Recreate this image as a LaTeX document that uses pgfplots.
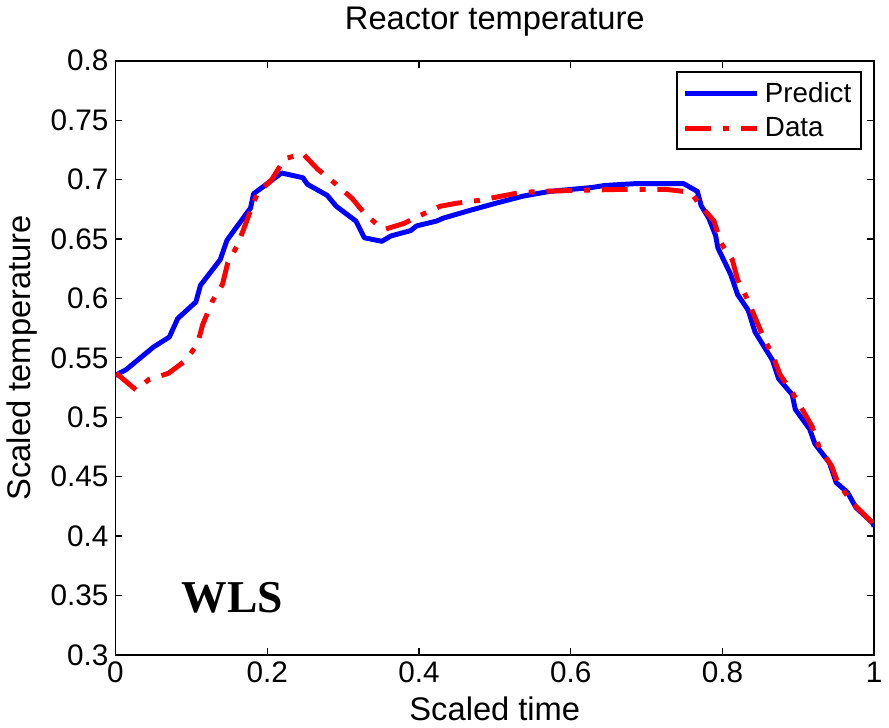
\documentclass[border=0pt]{standalone}
\usepackage{pgfplots}
\pgfplotsset{compat=1.18}
\usepackage{fontspec}
\setmainfont{Liberation Sans}
\newfontfamily\wlsfont{Liberation Serif}
\begin{document}
\begin{tikzpicture}
\begin{axis}[
    scale only axis,
    width=383pt, height=300pt,
    xmin=0, xmax=1, ymin=0.3, ymax=0.8,
    xtick={0,0.2,0.4,0.6,0.8,1},
    ytick={0.3,0.35,0.4,0.45,0.5,0.55,0.6,0.65,0.7,0.75,0.8},
    yticklabel style={/pgf/number format/fixed, /pgf/number format/precision=2},
    /pgf/number format/assume math mode=true,
    tick label style={font=\fontsize{15}{18}\selectfont},
    label style={font=\fontsize{16.5}{20}\selectfont},
    title style={font=\fontsize{16.5}{20}\selectfont, yshift=3pt},
    title={Reactor temperature},
    xlabel={Scaled time},
    ylabel={Scaled temperature},
    tick align=inside,
    major tick length=3.5pt,
    axis line style={line width=1pt},
    every tick/.style={black, line width=0.6pt},
    legend style={at={(0.984,0.982)}, anchor=north east, draw=black, line width=0.8pt,
        font=\fontsize{14}{17}\selectfont, row sep=2pt, inner sep=3pt,
        /tikz/every odd column/.append style={column sep=1pt}},
    legend cell align=left,
    legend image code/.code={\draw[#1] (0pt,0pt) -- (36pt,0pt);},
]
\addplot[blue, line width=2.5pt, line join=round] coordinates {
(0.000,0.535) (0.005,0.537) (0.014,0.540) (0.031,0.549) (0.050,0.559) (0.071,0.5675)
(0.082,0.583) (0.106,0.597) (0.112,0.611) (0.138,0.6325) (0.147,0.649) (0.178,0.676)
(0.182,0.688) (0.219,0.7055) (0.247,0.7015) (0.253,0.6960) (0.279,0.6867) (0.291,0.6775)
(0.317,0.665) (0.328,0.651) (0.351,0.648) (0.363,0.6525) (0.389,0.657) (0.397,0.661)
(0.423,0.665) (0.432,0.6675) (0.467,0.674) (0.501,0.680) (0.537,0.686) (0.572,0.690)
(0.628,0.6933) (0.645,0.695) (0.684,0.6965) (0.749,0.6965) (0.767,0.690) (0.772,0.678)
(0.782,0.6675) (0.791,0.653) (0.794,0.6425) (0.811,0.620) (0.820,0.6033) (0.834,0.590)
(0.843,0.5717) (0.866,0.548) (0.874,0.5325) (0.892,0.519) (0.896,0.5067) (0.915,0.490)
(0.922,0.4775) (0.941,0.4617) (0.950,0.445) (0.965,0.4367) (0.976,0.424) (0.998,0.411)
(1.000,0.408)
};
\addlegendentry{Predict}
\addplot[red, line width=2.5pt, dash pattern=on 13pt off 6pt on 3pt off 6pt] coordinates {
(0.001,0.537) (0.014,0.530) (0.027,0.523) (0.044,0.5317) (0.070,0.537) (0.093,0.548)
(0.108,0.5617) (0.115,0.578) (0.128,0.598) (0.141,0.6117) (0.148,0.630) (0.161,0.645)
(0.171,0.6617) (0.180,0.6775) (0.187,0.688) (0.206,0.700) (0.223,0.7175) (0.247,0.7217)
(0.266,0.709) (0.289,0.697) (0.312,0.684) (0.328,0.6717) (0.347,0.661) (0.356,0.6583)
(0.380,0.663) (0.399,0.669) (0.428,0.6775) (0.449,0.680) (0.480,0.6825) (0.533,0.689)
(0.560,0.690) (0.615,0.691) (0.667,0.6917) (0.726,0.6917) (0.749,0.690) (0.762,0.6858)
(0.772,0.6775) (0.789,0.665) (0.798,0.6467) (0.813,0.6325) (0.820,0.6158) (0.833,0.5992)
(0.843,0.584) (0.854,0.5675) (0.867,0.551) (0.876,0.5358) (0.893,0.520) (0.918,0.4925)
(0.928,0.474) (0.944,0.459) (0.952,0.445) (0.971,0.4283) (0.998,0.411) (1.000,0.409)
};
\addlegendentry{Data}
\node[font=\wlsfont\bfseries\fontsize{23}{26}\selectfont] at (axis cs:0.154,0.348) {WLS};
\end{axis}
\end{tikzpicture}
\end{document}
